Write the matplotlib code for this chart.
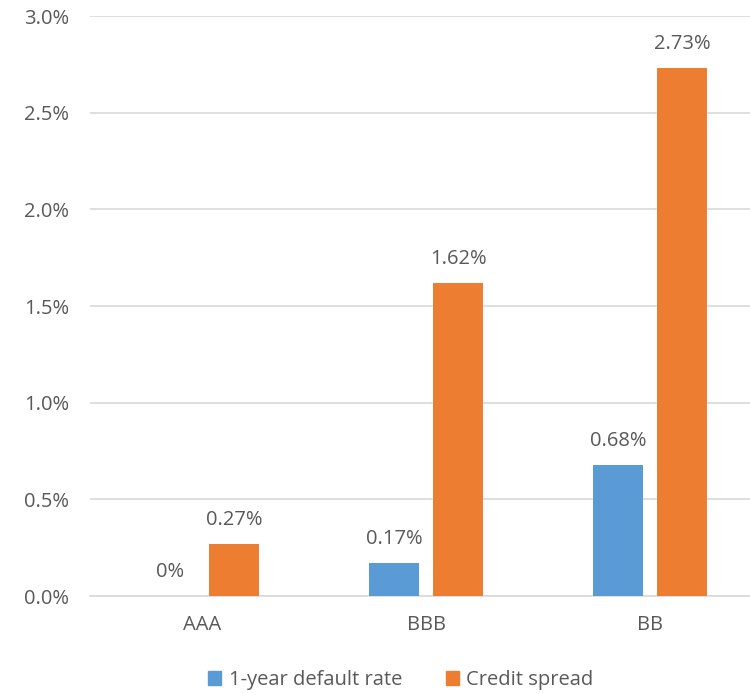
import numpy as np
import matplotlib.pyplot as plt
from matplotlib.patches import Patch

# ratings and values (percent)
RATINGS = ["AAA", "BBB", "BB"]
DEFAULT_RATE = [0.00, 0.17, 0.68]
CREDIT_SPREAD = [0.27, 1.62, 2.73]
DEFAULT_LABELS = ["0%", "0.17%", "0.68%"]
SPREAD_LABELS = ["0.27%", "1.62%", "2.73%"]

BLUE = "#5B9BD5"
ORANGE = "#ED7D31"
TXT = "#595959"
FS = 14.5

plt.rcParams['font.family'] = ['Open Sans', 'DejaVu Sans']

W, H = 750, 694
fig = plt.figure(figsize=(W / 100, H / 100), dpi=100)
ax = fig.add_axes([90 / W, 98 / H, 660 / W, 580 / H])

x = np.arange(len(RATINGS))
bw = 0.224
off = 0.1435
b1 = ax.bar(x - off, DEFAULT_RATE, bw, color=BLUE, zorder=3)
b2 = ax.bar(x + off, CREDIT_SPREAD, bw, color=ORANGE, zorder=3)

for bars, labels in [(b1, DEFAULT_LABELS), (b2, SPREAD_LABELS)]:
    for rect, lab in zip(bars, labels):
        ax.annotate(lab, (rect.get_x() + rect.get_width() / 2, rect.get_height()),
                    xytext=(0, 10), textcoords="offset points", ha="center", va="bottom",
                    fontsize=FS, color=TXT)

ax.set_ylim(0, 3.0)
ax.set_xlim(-0.5, 2.5 - 12 / 223)
ax.set_yticks(np.arange(0, 3.01, 0.5))
ax.set_yticklabels([f"{v:.1f}%" for v in np.arange(0, 3.01, 0.5)])
ax.set_xticks(x)
ax.set_xticklabels(RATINGS)
ax.tick_params(axis="both", length=0, labelsize=FS, colors=TXT)
ax.tick_params(axis="y", pad=15)
ax.tick_params(axis="x", pad=14)
ax.grid(axis="y", color="#D9D9D9", linewidth=1.2, zorder=0)
for s in ["top", "right", "left"]:
    ax.spines[s].set_visible(False)
ax.spines["bottom"].set_color("#D9D9D9")
ax.spines["bottom"].set_linewidth(1.2)

handles = [Patch(color=BLUE, label="1-year default rate"),
           Patch(color=ORANGE, label="Credit spread")]
fig.legend(handles=handles, loc="center", bbox_to_anchor=(401 / W, 1 - 680 / H),
           ncol=2, frameon=False, fontsize=FS, labelcolor=TXT,
           handlelength=0.65, handleheight=0.65, handletextpad=0.35, columnspacing=2.2)

fig.savefig("out.png", dpi=100)
